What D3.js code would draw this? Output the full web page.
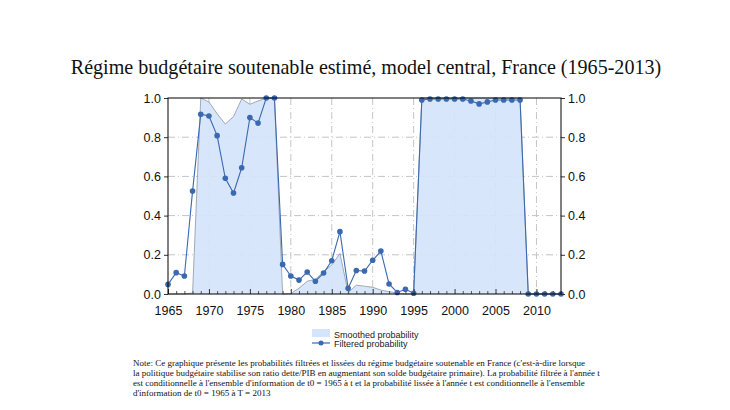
<!DOCTYPE html>
<html><head><meta charset="utf-8">
<script src="https://cdn.jsdelivr.net/npm/d3@7/dist/d3.min.js"></script>
<style>body{margin:0;background:#fff}svg{display:block}</style>
</head><body>
<svg id="c" width="730" height="410"></svg>
<script>
const years = d3.range(1965, 2014);
const smoothed = [0,0,0,0.005,1.0,0.98,0.92,0.867,0.905,0.995,0.968,0.985,1.0,1.0,0.0,0.003,0.029,0.065,0.075,0.114,0.148,0.207,0.007,0.045,0.04,0.034,0.02,0.012,0.005,0.0,0.0,
  1.0,1.0,1.0,1.0,1.0,1.0,1.0,1.0,1.0,1.0,1.0,1.0,1.0,0.0,0.0,0.0,0.0,0.0];
const filtered = [0.049,0.109,0.092,0.525,0.917,0.908,0.808,0.59,0.515,0.644,0.9,0.872,1.0,1.0,0.151,0.092,0.071,0.112,0.065,0.107,0.17,0.318,0.029,0.12,0.117,0.172,0.219,0.051,0.008,0.024,0.004,
  0.99,0.995,0.995,0.995,0.995,0.995,0.985,0.97,0.98,0.99,0.99,0.99,0.99,0.0,0.0,0.0,0.0,0.0];
const xTicks = [1965,1970,1975,1980,1985,1990,1995,2000,2005,2010];
const yTicks = [0,0.2,0.4,0.6,0.8,1.0];
const legendLabels = ["Smoothed probability","Filtered probability"];
const title = "Régime budgétaire soutenable estimé, model central, France (1965-2013)";
const noteLines = [
 "Note: Ce graphique présente les probabilités filtrées et lissées du régime budgétaire soutenable en France (c'est-à-dire lorsque",
 "la politique budgétaire stabilise son ratio dette/PIB en augmentant son solde budgétaire primaire). La probabilité filtrée à l'année t",
 "est conditionnelle à l'ensemble d'information de t0 = 1965 à t et la probabilité lissée à l'année t est conditionnelle à l'ensemble",
 "d'information de t0 = 1965 à T = 2013"
];

const svg = d3.select("#c");
const L = 168, R = 561, T = 98, B = 294;
const x = d3.scaleLinear().domain([1965, 2013]).range([L, R]);
const y = d3.scaleLinear().domain([0, 1]).range([B, T]);
const blue = "#3a69b0";
const grid = "#c4c4c4";
const dash = "7,3,1,3";
const serif = "'Liberation Serif', 'DejaVu Serif', serif";

// title
const tt = svg.append("text").attr("x", 366).attr("y", 74).attr("text-anchor","middle")
  .attr("font-family", serif).attr("font-size",19).attr("fill","#111").text(title);
const tw = tt.node().getComputedTextLength();
tt.attr("font-size", 19 * 591 / tw);

// gridlines
svg.append("g").selectAll("line").data(yTicks.filter(d => d > 0 && d < 1)).join("line")
  .attr("x1", L).attr("x2", R).attr("y1", d => y(d)).attr("y2", d => y(d))
  .attr("stroke", grid).attr("stroke-dasharray", dash).attr("stroke-width", 1);
svg.append("g").selectAll("line").data(xTicks.filter(d => d > 1965)).join("line")
  .attr("x1", d => x(d)).attr("x2", d => x(d)).attr("y1", T).attr("y2", B)
  .attr("stroke", grid).attr("stroke-dasharray", dash).attr("stroke-width", 1);

// area
const pts = years.map((yr, i) => ({yr, s: smoothed[i], f: filtered[i]}));
svg.append("path").datum(pts)
  .attr("d", d3.area().x(d => x(d.yr)).y0(y(0)).y1(d => y(d.s)))
  .attr("fill", "#d4e4fb").attr("fill-opacity", 0.93);
svg.append("path").datum(pts)
  .attr("d", d3.line().x(d => x(d.yr)).y(d => y(d.s)))
  .attr("fill", "none").attr("stroke", "#8f97a3").attr("stroke-width", 0.8);

// filtered line
svg.append("path").datum(pts)
  .attr("d", d3.line().x(d => x(d.yr)).y(d => y(d.f)))
  .attr("fill", "none").attr("stroke", blue).attr("stroke-width", 1.1);
svg.append("g").selectAll("circle").data(pts).join("circle")
  .attr("cx", d => x(d.yr)).attr("cy", d => y(d.f)).attr("r", 2.8).attr("fill", blue);

// axes
const fmt = d3.format(".1f");
const font = "'Liberation Sans', Arial, sans-serif";
const yl = svg.append("g").attr("transform", `translate(${L},0)`)
  .call(d3.axisLeft(y).tickValues(yTicks).tickFormat(fmt).tickSize(4).tickPadding(3));
const yr2 = svg.append("g").attr("transform", `translate(${R},0)`)
  .call(d3.axisRight(y).tickValues(yTicks).tickFormat(fmt).tickSize(4).tickPadding(3));
const xb = svg.append("g").attr("transform", `translate(0,${B})`)
  .call(d3.axisBottom(x).tickValues(xTicks).tickFormat(d3.format("d")).tickSize(-5).tickPadding(12));
const xm = svg.append("g").attr("transform", `translate(0,${B})`)
  .call(d3.axisBottom(x).tickValues(years.filter(d => d % 5 !== 0)).tickFormat("").tickSize(-3));
xm.select(".domain").remove();
[yl, yr2, xb].forEach(g => {
  g.selectAll("text").attr("font-family", font).attr("font-size", 12.5).attr("fill", "#111");
  g.selectAll(".tick line").attr("stroke", "#333");
  g.select(".domain").remove();
});
xm.selectAll(".tick line").attr("stroke", "#555");
// frame
svg.append("rect").attr("x", L).attr("y", T).attr("width", R - L).attr("height", B - T)
  .attr("fill", "none").attr("stroke", "#000").attr("stroke-width", 1);

// legend
const lg = svg.append("g");
lg.append("rect").attr("x", 312).attr("y", 329).attr("width", 18).attr("height", 8).attr("fill", "#d4e4fb");
lg.append("line").attr("x1", 312).attr("x2", 330).attr("y1", 343).attr("y2", 343).attr("stroke", blue).attr("stroke-width", 1.2);
lg.append("circle").attr("cx", 321).attr("cy", 343).attr("r", 2.5).attr("fill", blue);
lg.selectAll("text").data(legendLabels).join("text")
  .attr("x", 334).attr("y", (d, i) => 337.5 + i * 9.5)
  .attr("font-family", font).attr("font-size", 9).attr("fill", "#222").text(d => d);

// note
const nt = svg.append("g");
const noteEls = noteLines.map((t, i) => nt.append("text").attr("x", 133).attr("y", 366 + i * 10)
    .attr("font-family", serif).attr("font-size", 9).attr("fill", "#111").text(t));
const nw = noteEls[1].node().getComputedTextLength();
const nfs = 9 * 467 / nw;
noteEls.forEach(e => e.attr("font-size", nfs));
</script>
</body></html>
